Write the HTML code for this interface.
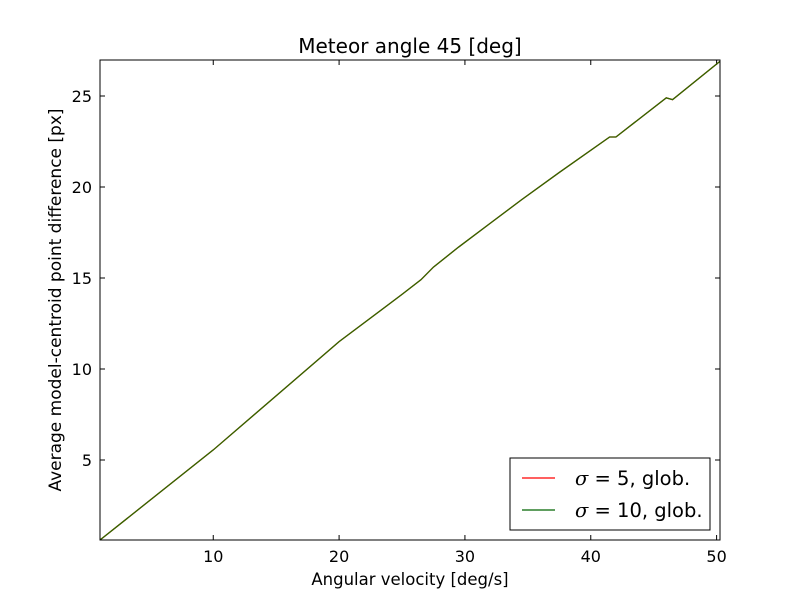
<!DOCTYPE html>
<html><head><meta charset="utf-8"><style>
body{margin:0;background:#fff}
svg text{font-family:"DejaVu Sans","Liberation Sans",sans-serif}
</style></head><body>
<svg id="chart" width="800" height="600" xmlns="http://www.w3.org/2000/svg">
<rect width="800" height="600" fill="#fff"/>
<text x="410" y="53" font-size="20" text-anchor="middle">Meteor angle 45 [deg]</text>
<g id="ticks"></g>
<g id="lines"></g>
<rect x="100" y="60" width="620" height="480" fill="none" stroke="#000" stroke-width="1"/>
<text x="410" y="585" font-size="16.5" text-anchor="middle">Angular velocity [deg/s]</text>
<text transform="translate(61,300) rotate(-90)" font-size="17" text-anchor="middle">Average model-centroid point difference [px]</text>
<g>
<rect x="510" y="458" width="200" height="72" fill="#fff" stroke="#000"/>
<line x1="522" y1="478" x2="555" y2="478" stroke="#ff0000" stroke-width="1.2"/>
<text x="575" y="485" font-size="19.5"><tspan font-style="italic" font-family="DejaVu Serif,serif">σ</tspan> = 5, glob.</text>
<line x1="522" y1="510" x2="555" y2="510" stroke="#006400" stroke-width="1.2"/>
<text x="575" y="517" font-size="19.5"><tspan font-style="italic" font-family="DejaVu Serif,serif">σ</tspan> = 10, glob.</text>
</g>
</svg>
<script>
const xs = [1,10,20,25,26.5,27.5,29.5,32,34.5,37.5,41.5,42,46,46.5,50.25];
const ys5 = [0.6,5.55,11.5,14.1,14.9,15.6,16.7,18,19.3,20.8,22.75,22.75,24.9,24.8,26.9];
const ys10 = [0.6,5.55,11.5,14.1,14.9,15.6,16.7,18,19.3,20.8,22.75,22.75,24.9,24.8,26.9];
const xTicks = [10,20,30,40,50];
const yTicks = [5,10,15,20,25];
const X0=1,X1=50.27,Y0=0.6,Y1=26.98;
const sx=v=>100+(v-X0)/(X1-X0)*620;
const sy=v=>540-(v-Y0)/(Y1-Y0)*480;
const NS="http://www.w3.org/2000/svg";
const tg=document.getElementById('ticks');
function mk(t,a,p){const e=document.createElementNS(NS,t);for(const k in a)e.setAttribute(k,a[k]);p.appendChild(e);return e;}
xTicks.forEach(v=>{
 const x=sx(v);
 const l=mk('path',{d:`M${x},540v-5M${x},60v5`,stroke:'#000'},tg);
 
 
 const t=mk('text',{x:x,y:562,'font-size':16,'text-anchor':'middle'},tg);t.textContent=v;
 
 
});
yTicks.forEach(v=>{
 const y=sy(v);
 const l=mk('path',{d:`M100,${y}h5M720,${y}h-5`,stroke:'#000'},tg);
 
 
 const t=mk('text',{x:92,y:y+6,'font-size':16,'text-anchor':'end'},tg);t.textContent=v;
 
 
});
const lg=document.getElementById('lines');
[[ys5,'#ff0000','series-sigma-5'],[ys10,'#2d6a00','series-sigma-10']].forEach(([ys,c,n])=>{
 const p=mk('polyline',{points:xs.map((x,i)=>sx(x)+','+sy(ys[i])).join(' '),fill:'none',stroke:c,'stroke-width':1.3},lg);
 
 
});
</script>
</body></html>
